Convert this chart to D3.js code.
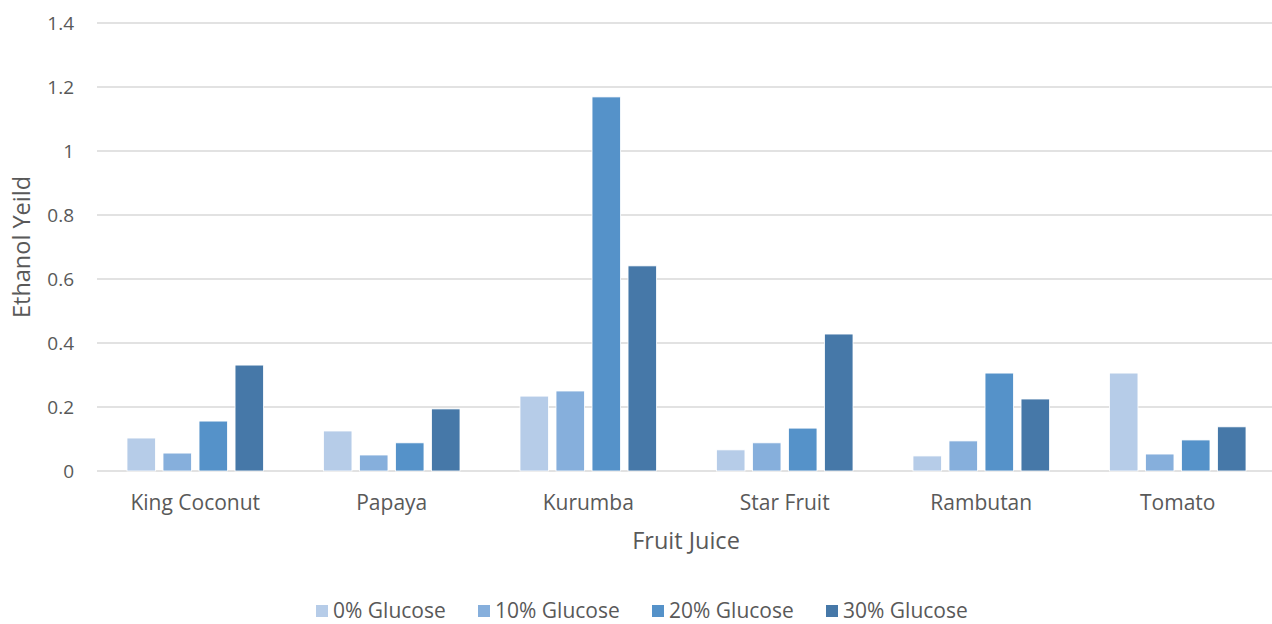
<!DOCTYPE html>
<html>
<head>
<meta charset="utf-8">
<script src="https://d3js.org/d3.v7.min.js"></script>
<style>
  body { margin: 0; background: #fff; }
  text { font-family: "Open Sans", Lato, sans-serif; fill: #595959; }
</style>
</head>
<body>
<div id="chart"></div>
<script>
// data
const fruits = ["King Coconut", "Papaya", "Kurumba", "Star Fruit", "Rambutan", "Tomato"];
const series = ["0% Glucose", "10% Glucose", "20% Glucose", "30% Glucose"];
const glucose0  = [0.103, 0.125, 0.234, 0.066, 0.047, 0.306];
const glucose10 = [0.056, 0.050, 0.250, 0.088, 0.094, 0.053];
const glucose20 = [0.156, 0.088, 1.169, 0.134, 0.306, 0.097];
const glucose30 = [0.331, 0.194, 0.641, 0.428, 0.225, 0.138];
const yTicks = [0, 0.2, 0.4, 0.6, 0.8, 1, 1.2, 1.4];
const colors = ["#b6cce8", "#86afdc", "#5592c9", "#4678a8"];

const values = [glucose0, glucose10, glucose20, glucose30];
const rows = fruits.map((f, i) => ({ fruit: f, vals: values.map(v => v[i]) }));

const W = 1272, H = 624;
const margin = { top: 23, right: -4, bottom: 153, left: 97 };
const width = W - margin.left - margin.right;
const height = H - margin.top - margin.bottom;

const svg = d3.select("#chart").append("svg")
    .attr("width", W).attr("height", H);
const g = svg.append("g")
    .attr("transform", `translate(${margin.left},${margin.top})`);

const x = d3.scaleBand().domain(fruits).range([0, width]).paddingInner(0).paddingOuter(0);
const x1 = d3.scaleBand().domain(series).range([30, x.bandwidth() - 30]).paddingInner(0.21);
const y = d3.scaleLinear().domain([0, 1.4]).range([height, 0]);

// gridlines
g.selectAll(".grid").data(yTicks).join("line")
    .attr("x1", 0).attr("x2", W - margin.left)
    .attr("y1", d => y(d)).attr("y2", d => y(d))
    .attr("stroke", "#d9d9d9").attr("stroke-width", 1.5);

// y labels
g.selectAll(".ylab").data(yTicks).join("text")
    .attr("x", -23).attr("y", d => y(d)).attr("dy", "0.35em")
    .attr("text-anchor", "end").style("font-size", "19px")
    .text(d => d);

// bars
const grp = g.selectAll(".grp").data(rows).join("g")
    .attr("transform", d => `translate(${x(d.fruit)},0)`);
grp.selectAll("rect").data(d => d.vals.map((v, i) => ({ s: series[i], v: v, i: i }))).join("rect")
    .attr("x", d => x1(d.s)).attr("width", x1.bandwidth())
    .attr("y", d => y(d.v)).attr("height", d => y(0) - y(d.v))
    .attr("fill", d => colors[d.i])
    .attr("stroke", "#fff").attr("stroke-width", 0.8);

// category labels
g.selectAll(".xlab").data(fruits).join("text")
    .attr("x", d => x(d) + x.bandwidth() / 2).attr("y", height + 32)
    .attr("dy", "0.35em").attr("text-anchor", "middle").style("font-size", "21px")
    .text(d => d);

// axis titles
svg.append("text").attr("x", 686).attr("y", 541).attr("dy", "0.35em")
    .attr("text-anchor", "middle").style("font-size", "23.5px").text("Fruit Juice");
svg.append("text").attr("transform", `translate(22,${margin.top + height / 2}) rotate(-90)`)
    .attr("dy", "0.35em").attr("text-anchor", "middle").style("font-size", "23.5px").text("Ethanol Yeild");

// legend
const legX = [316, 478, 652, 826];
const leg = svg.selectAll(".leg").data(series).join("g")
    .attr("transform", (d, i) => `translate(${legX[i]},611)`);
leg.append("rect").attr("x", 0).attr("y", -6).attr("width", 12).attr("height", 12)
    .attr("fill", (d, i) => colors[i]);
leg.append("text").attr("x", 17).attr("dy", "0.35em").style("font-size", "21px").text(d => d);
</script>
</body>
</html>
